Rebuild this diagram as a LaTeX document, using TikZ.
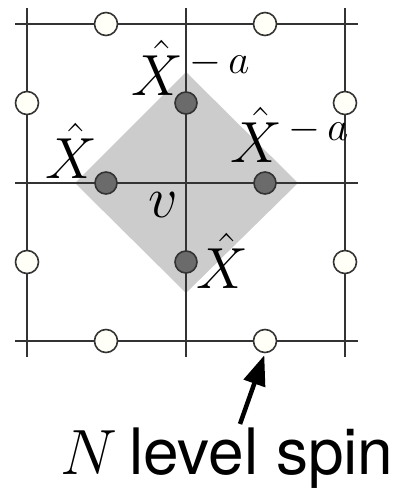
\RequirePackage{fix-cm}
\documentclass[tikz,border=0pt]{standalone}
\usepackage{fontspec}
\newfontfamily\helv{TeX Gyre Heros}
\usetikzlibrary{arrows.meta}
\DeclareMathSizes{58}{58}{41}{30}
\DeclareMathSizes{64}{64}{45}{32}

\tikzset{
  gridline/.style={line width=1.7pt, black!80},
  openspin/.style={draw=black!80, line width=1.6pt, circle, fill=yellow!3, minimum size=23pt, inner sep=0pt},
  darkspin/.style={draw=black!80, line width=1.6pt, circle, fill=black!58, minimum size=22pt, inner sep=0pt},
  oplabel/.style={inner sep=0pt, anchor=base west, font=\fontsize{58}{60}\selectfont}
}

\begin{document}
\begin{tikzpicture}[x=1pt, y=-1pt]
     \useasboundingbox (0,0) rectangle (403,488);

     % Plaquette around vertex v
     \fill[black!20] (186,72) -- (298,183) -- (186,293) -- (75,183) -- cycle;

     % Lattice
     \draw[gridline] (15,24) -- (358,24);
     \draw[gridline] (15,183) -- (358,183);
     \draw[gridline] (15,341) -- (358,341);
     \draw[gridline] (27,8) -- (27,357);
     \draw[gridline] (186,8) -- (186,357);
     \draw[gridline] (345,8) -- (345,357);

     % N level spins on the edges
     \node[openspin] (s1) at (106,24) {};
     \node[openspin] (s2) at (265,24) {};
     \node[openspin] (s3) at (27,103) {};
     \node[openspin] (s4) at (345,103) {};
     \node[openspin] (s5) at (27,262) {};
     \node[openspin] (s6) at (345,262) {};
     \node[openspin] (s7) at (106,341) {};
     \node[openspin] (spin) at (265,341) {};

     % Spins acted on by the vertex operator
     \node[darkspin] (top) at (186,103) {};
     \node[darkspin] (left) at (106,183) {};
     \node[darkspin] (right) at (265,183) {};
     \node[darkspin] (bottom) at (186,262) {};

     % Operator labels
     \node[oplabel] (ltop) at (131,95) {$\hat{X}^{\,-\mkern3mu a}$};
     \node[oplabel] (lright) at (230,162) {$\hat{X}^{\,-\mkern3mu a}$};
     \node[oplabel] (lleft) at (45,178) {$\hat{X}$};
     \node[oplabel] (lbottom) at (196,288) {$\hat{X}$};
     \node[oplabel] (v) at (148,217) {$v$};

     % Spin label and arrow
     \node[inner sep=0pt, anchor=base west, font=\fontsize{64}{70}\selectfont] (lbl) at (60,474) {$N$\hspace{12pt}{\helv\fontsize{64}{70}\selectfont level spin}};
     \coordinate (tail) at (240,424);
     \draw[-{Triangle[length=30pt, width=22pt]}, line width=4.5pt, shorten >=2pt] (tail) -- (spin.south);

\end{tikzpicture}
\end{document}
